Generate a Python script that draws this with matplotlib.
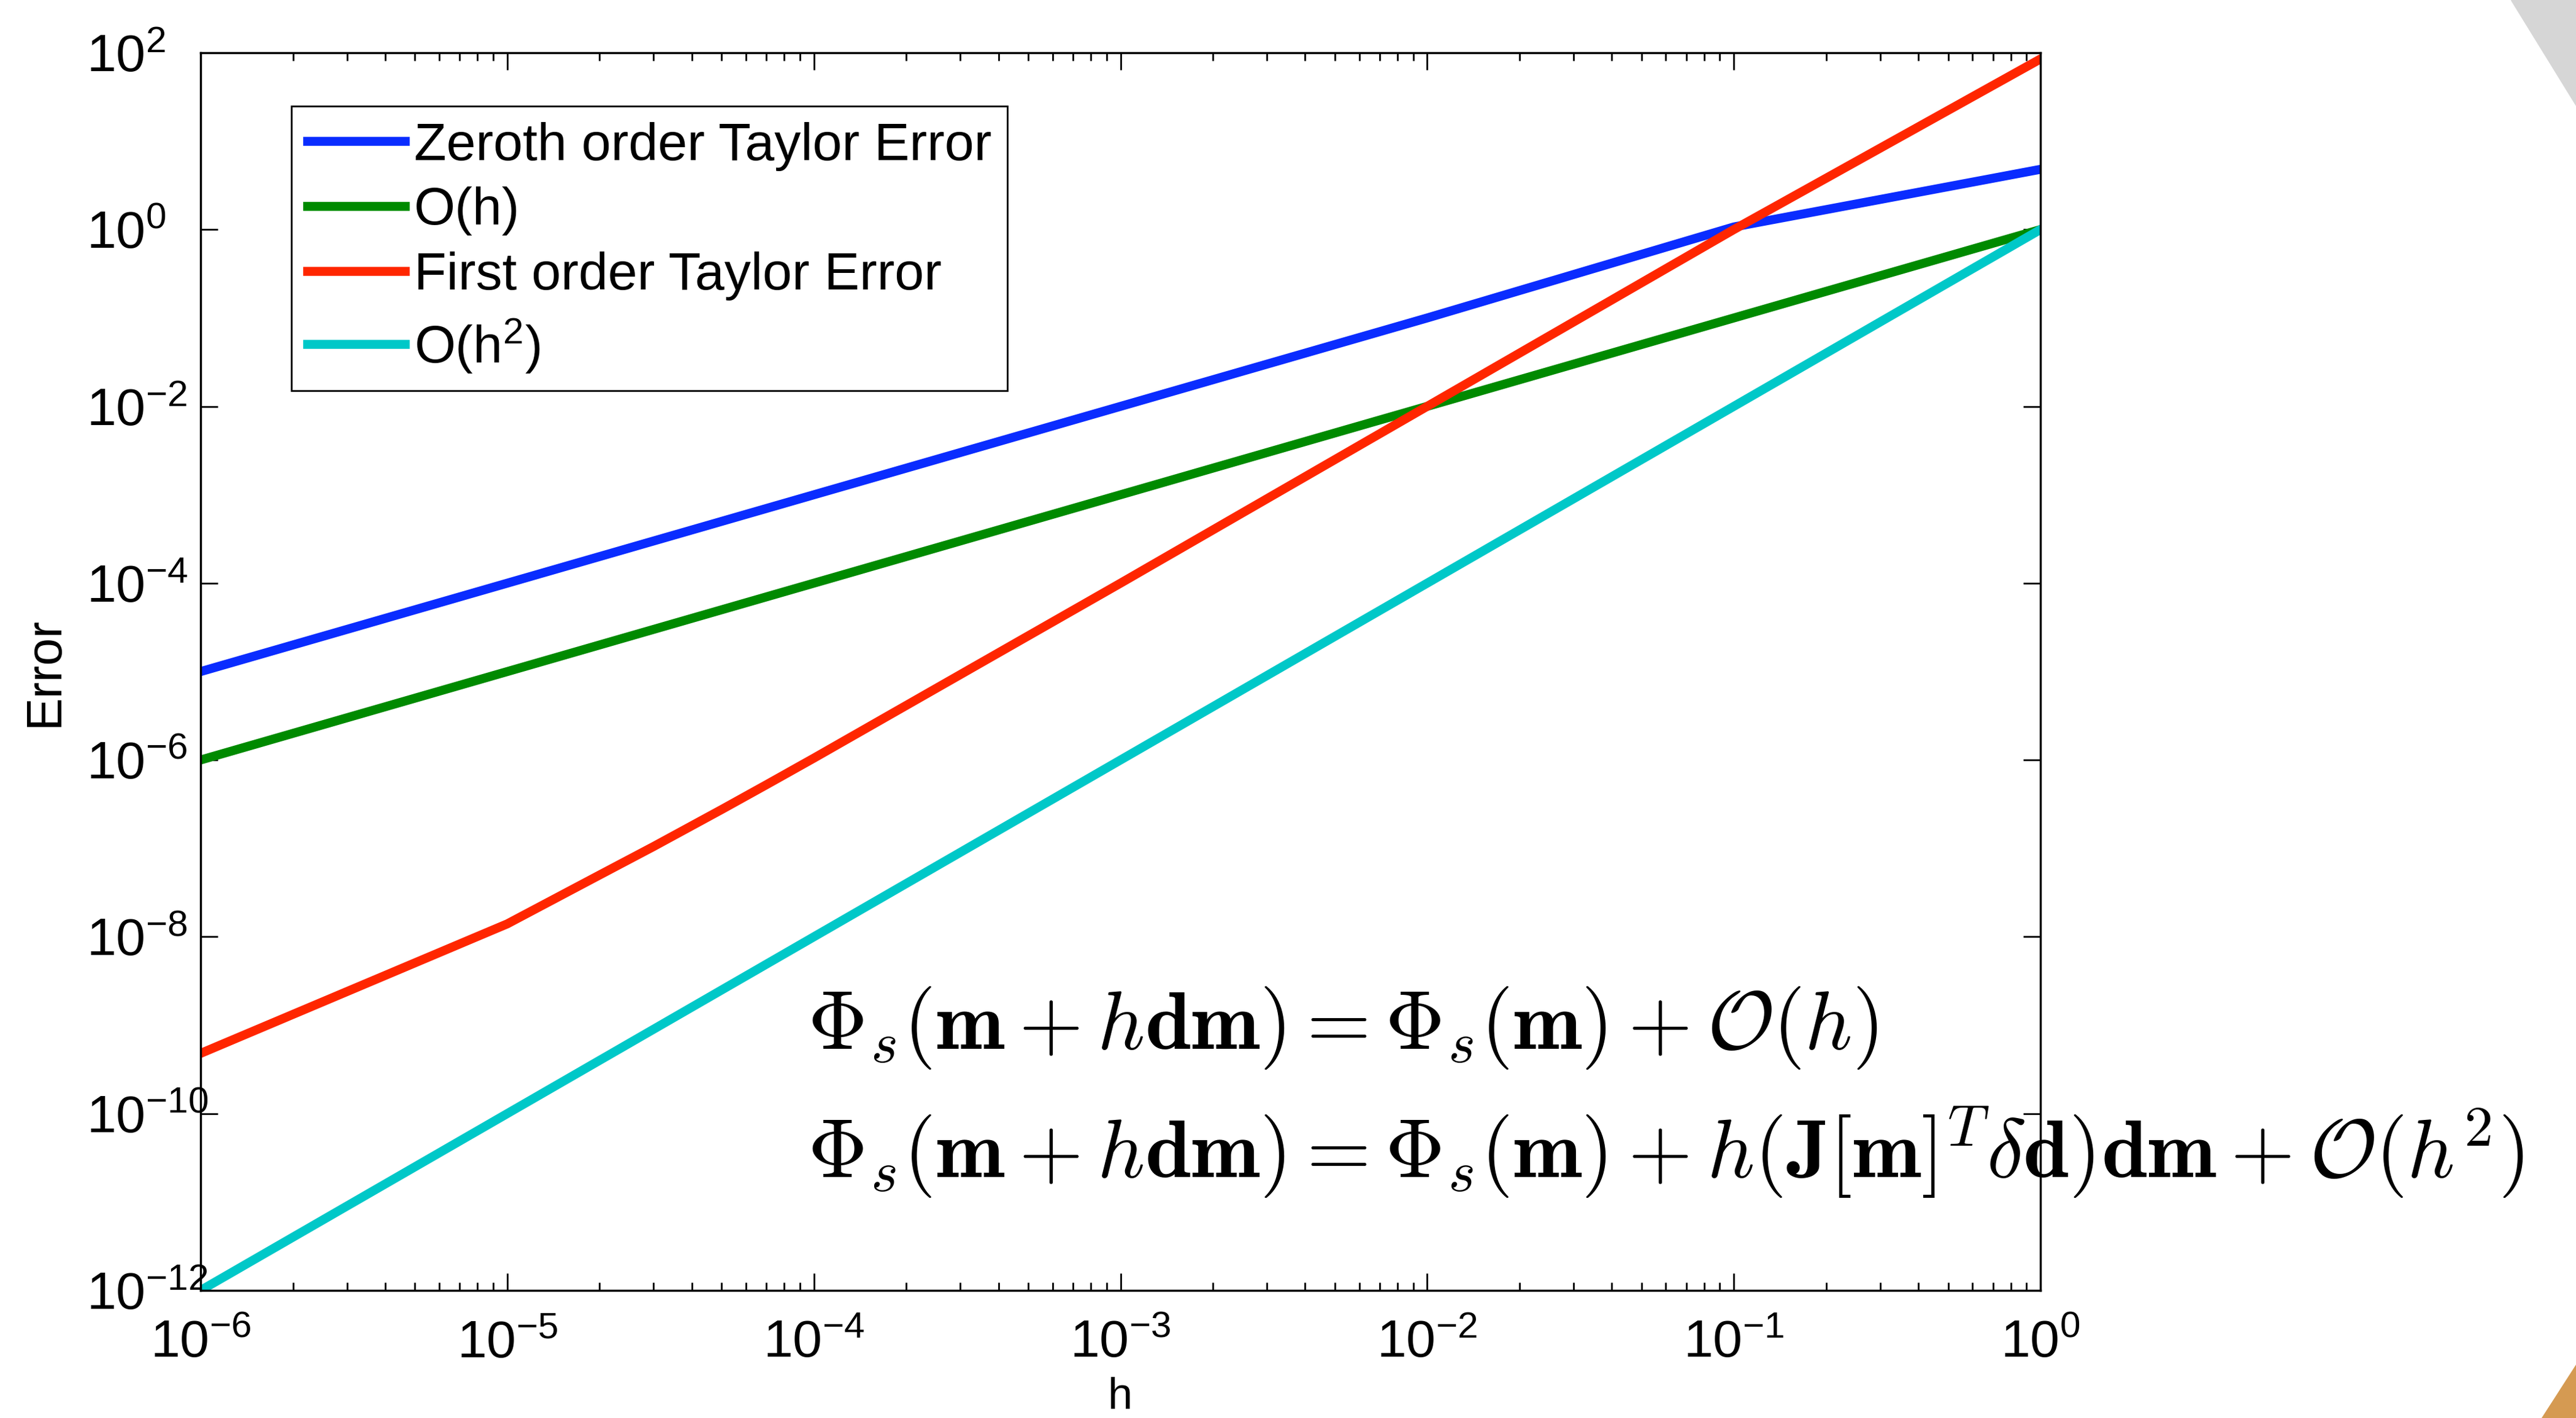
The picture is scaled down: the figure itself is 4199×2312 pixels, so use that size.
import numpy as np
import matplotlib.pyplot as plt
from matplotlib.patches import Polygon

plt.rcParams['font.family'] = 'Liberation Sans'
plt.rcParams['mathtext.fontset'] = 'custom'
plt.rcParams['mathtext.rm'] = 'Liberation Sans'
plt.rcParams['mathtext.it'] = 'Liberation Sans:italic'
plt.rcParams['mathtext.bf'] = 'Liberation Sans:bold'

# данные
h_dec = [1e-6, 1e-5, 1e-4, 1e-3, 1e-2, 1e-1, 1.0]
zeroth_err = [1e-5, 1e-4, 1e-3, 1e-2, 1e-1, 1.07, 4.8]
o_h = [1e-6, 1e-5, 1e-4, 1e-3, 1e-2, 1e-1, 1.0]
o_h2 = [1e-12, 1e-10, 1e-8, 1e-6, 1e-4, 1e-2, 1.0]

h_red = [1e-6, 1e-5, 2e-5, 3e-5, 5e-5, 7e-5, 1e-4, 1e-3, 1e-2, 1e-1, 1.0]
first_err = [4.8e-10, 1.4e-8, 5e-8, 1.05e-7, 2.75e-7, 5.25e-7, 1.05e-6, 1.0e-4, 1.0e-2, 1.0, 85.0]

x_exp = [-6, -5, -4, -3, -2, -1, 0]
y_exp = [2, 0, -2, -4, -6, -8, -10, -12]

labels = ['Zeroth order Taylor Error', 'O(h)', 'First order Taylor Error', 'O(h$^2$)']
colors = ['#0a2cff', '#008a00', '#ff2600', '#00c8c8']

fig = plt.figure(figsize=(41.99, 23.12), dpi=100)

# фон слайда
fig.patches.append(Polygon([[0.9748, 1], [1, 1], [1, 0.9256]], closed=True,
                           transform=fig.transFigure, color='#d6d6d6', zorder=0))
fig.patches.append(Polygon([[0.9867, 0], [1, 0], [1, 0.0376]], closed=True,
                           transform=fig.transFigure, color='#d59a52', zorder=0))

ax = fig.add_axes([0.0779, 0.0900, 0.7142, 0.8728])
lw = 10.5
ax.loglog(h_dec, zeroth_err, color=colors[0], lw=lw, label=labels[0])
ax.loglog(h_dec, o_h, color=colors[1], lw=lw, label=labels[1])
ax.loglog(h_red, first_err, color=colors[2], lw=lw, label=labels[2])
ax.loglog(h_dec, o_h2, color=colors[3], lw=lw, label=labels[3])

ax.set_xlim(1e-6, 1)
ax.set_ylim(1e-12, 1e2)

ax.set_xticks([10.0 ** e for e in x_exp], labels=[r'$\mathregular{10^{%d}}$' % e for e in x_exp])
ax.set_yticks([10.0 ** e for e in y_exp], labels=[r'$\mathregular{10^{%d}}$' % e for e in y_exp])
ax.yaxis.set_minor_locator(plt.NullLocator())

ax.tick_params(which='both', direction='in', top=True, right=True, width=2, labelsize=62)
ax.tick_params(which='major', length=20)
ax.tick_params(which='minor', length=9.5)
ax.tick_params(axis='x', pad=34)
ax.tick_params(axis='y', pad=134)
for lbl in ax.get_yticklabels():
    lbl.set_horizontalalignment('left')
for s in ax.spines.values():
    s.set_linewidth(2.5)

ax.set_xlabel('h', fontsize=52)
ax.set_ylabel('Error', fontsize=58)
ax.xaxis.set_label_coords(0.5, -0.07)
ax.yaxis.set_label_coords(-0.072, 0.5)

leg = ax.legend(loc='upper left', bbox_to_anchor=(0.0494, 0.957), borderaxespad=0,
                fontsize=62, handlelength=1.85, handletextpad=0.17, labelspacing=0.3,
                borderpad=0.3, fancybox=False, edgecolor='black', framealpha=1)
leg.get_frame().set_linewidth(2)

eq1 = r'$\Phi_s(\mathbf{m} + h\mathbf{dm}) = \Phi_s(\mathbf{m}) + \mathcal{O}(h)$'
eq2 = (r'$\Phi_s(\mathbf{m} + h\mathbf{dm}) = \Phi_s(\mathbf{m}) + '
       r'h(\mathbf{J}[\mathbf{m}]^T\delta\mathbf{d})\mathbf{dm} + \mathcal{O}(h^2)$')
fig.text(0.3135, 0.2604, eq1, fontsize=97, math_fontfamily='cm', va='baseline')
fig.text(0.3135, 0.1700, eq2, fontsize=97, math_fontfamily='cm', va='baseline')

fig.savefig('out.png', dpi=100)
